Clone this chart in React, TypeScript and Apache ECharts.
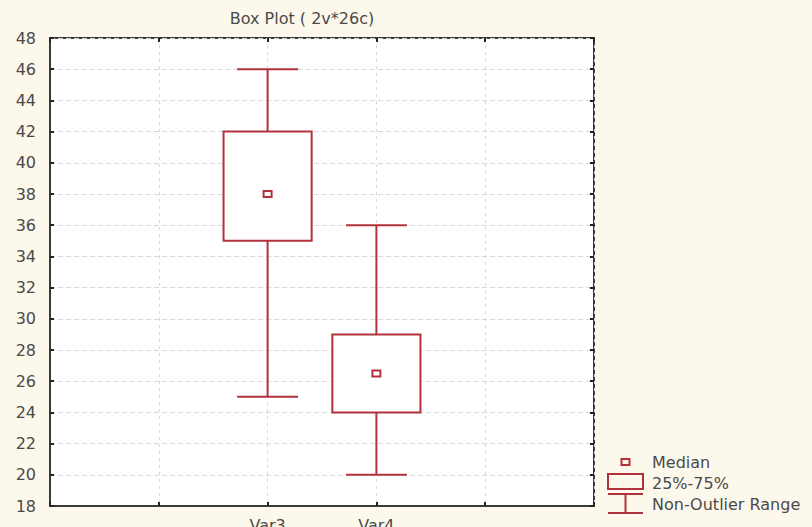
import React, { useEffect, useRef } from "react";
import * as echarts from "echarts";

const categories = ["", " ", "Var3", "Var4", "  ", "   "];
const boxNames = ["Var3", "Var4"];
const minValues = [25, 20];
const q1Values = [35, 24];
const medianValues = [38, 26.5];
const q3Values = [42, 29];
const maxValues = [46, 36];
const yTicks = { min: 18, max: 48, interval: 2 };
const legendLabels = ["Median", "25%-75%", "Non-Outlier Range"];
const titleText = "Box Plot ( 2v*26c)";

const RED = "#b2323c";
const TXT = "#4a4a4a";
const FONT = "'DejaVu Sans', Verdana, sans-serif";

export default function App() {
  const ref = useRef<HTMLDivElement>(null);
  useEffect(() => {
    if (!ref.current) return;
    const chart = echarts.init(ref.current, undefined, { renderer: "svg" });
    const data = boxNames.map((n, i) => [n, minValues[i], q1Values[i], medianValues[i], q3Values[i], maxValues[i]]);
    const renderItem = (params: any, api: any) => {
      const x = api.value(0);
      const pMin = api.coord([x, api.value(1)]);
      const pQ1 = api.coord([x, api.value(2)]);
      const pMed = api.coord([x, api.value(3)]);
      const pQ3 = api.coord([x, api.value(4)]);
      const pMax = api.coord([x, api.value(5)]);
      const band = api.size([1, 0])[0];
      const bw = band * 0.81;
      const cw = band * 0.56;
      const cx = pMed[0];
      const ls = { stroke: RED, lineWidth: 2, fill: "none" };
      return {
        type: "group",
        children: [
          { type: "line", shape: { x1: cx, y1: pMax[1], x2: cx, y2: pQ3[1] }, style: ls },
          { type: "line", shape: { x1: cx, y1: pQ1[1], x2: cx, y2: pMin[1] }, style: ls },
          { type: "line", shape: { x1: cx - cw / 2, y1: pMax[1], x2: cx + cw / 2, y2: pMax[1] }, style: ls },
          { type: "line", shape: { x1: cx - cw / 2, y1: pMin[1], x2: cx + cw / 2, y2: pMin[1] }, style: ls },
          { type: "rect", shape: { x: cx - bw / 2, y: pQ3[1], width: bw, height: pQ1[1] - pQ3[1] }, style: { stroke: RED, lineWidth: 2, fill: "#fff" } },
          { type: "rect", shape: { x: cx - 4, y: pMed[1] - 3, width: 8, height: 6 }, style: { stroke: RED, lineWidth: 2, fill: "#fff" } },
        ],
      };
    };
    const lx = 608, lw = 35, lc = lx + lw / 2;
    const lstyle = { stroke: RED, lineWidth: 2, fill: "none" };
    chart.setOption({
      animation: false,
      backgroundColor: "#fdf8ec",
      title: {
        text: titleText,
        left: 297,
        top: 5,
        textAlign: "center",
        textStyle: { fontFamily: FONT, fontSize: 16, fontWeight: "normal", color: TXT },
      },
      grid: {
        left: 50,
        top: 38,
        right: 218,
        bottom: 21,
        outerBoundsMode: "none",
        containLabel: false,
        show: true,
        backgroundColor: "#ffffff",
        borderColor: "#3a3a3a",
        borderWidth: 2,
      },
      xAxis: [
        {
          type: "category",
          data: categories,
          boundaryGap: false,
          axisLine: { show: true, lineStyle: { color: "#3a3a3a", width: 2 } },
          axisTick: { show: true, inside: true, length: 4, lineStyle: { color: "#222", width: 2 } },
          axisLabel: { show: true, margin: 11, fontFamily: FONT, fontSize: 16, color: TXT },
          splitLine: { show: true, lineStyle: { color: "#d8d8d8", type: [3, 4], width: 1 } },
        },
        {
          type: "category",
          data: categories,
          boundaryGap: false,
          position: "top",
          axisLine: { show: false },
          axisTick: { show: true, inside: true, length: 4, lineStyle: { color: "#222", width: 2 } },
          axisLabel: { show: false },
          splitLine: { show: false },
        },
      ],
      yAxis: [
        {
          type: "value",
          min: yTicks.min,
          max: yTicks.max,
          interval: yTicks.interval,
          axisLine: { show: true, lineStyle: { color: "#3a3a3a", width: 2 } },
          axisTick: { show: true, inside: true, length: 4, lineStyle: { color: "#222", width: 2 } },
          axisLabel: { margin: 14, fontFamily: FONT, fontSize: 16, color: TXT },
          splitLine: { show: true, lineStyle: { color: "#d8d8d8", type: [5, 3], width: 1 } },
        },
        {
          type: "value",
          min: yTicks.min,
          max: yTicks.max,
          interval: yTicks.interval,
          position: "right",
          axisLine: { show: false },
          axisTick: { show: true, inside: true, length: 4, lineStyle: { color: "#222", width: 2 } },
          axisLabel: { show: false },
          splitLine: { show: false },
        },
      ],
      series: [
        {
          type: "custom",
          xAxisIndex: 0,
          yAxisIndex: 0,
          renderItem,
          data,
          encode: { x: 0, y: [1, 2, 3, 4, 5] },
        },
      ],
      graphic: [
        { type: "rect", shape: { x: lc - 4, y: 459, width: 8, height: 6 }, style: { stroke: RED, lineWidth: 2, fill: "none" } },
        { type: "rect", shape: { x: lx, y: 474, width: lw, height: 15 }, style: lstyle },
        { type: "line", shape: { x1: lx, y1: 494, x2: lx + lw, y2: 494 }, style: lstyle },
        { type: "line", shape: { x1: lc, y1: 494, x2: lc, y2: 513 }, style: lstyle },
        { type: "line", shape: { x1: lx, y1: 513, x2: lx + lw, y2: 513 }, style: lstyle },
        ...legendLabels.map((t, i) => ({
          type: "text",
          x: 652,
          y: 462 + i * 21,
          style: { text: t, fontFamily: FONT, fontSize: 16, fill: TXT, textVerticalAlign: "middle" },
        })),
      ],
    });
    return () => chart.dispose();
  }, []);
  return <div ref={ref} style={{ width: 812, height: 527, position: "absolute", left: 0, top: 0 }} />;
}
